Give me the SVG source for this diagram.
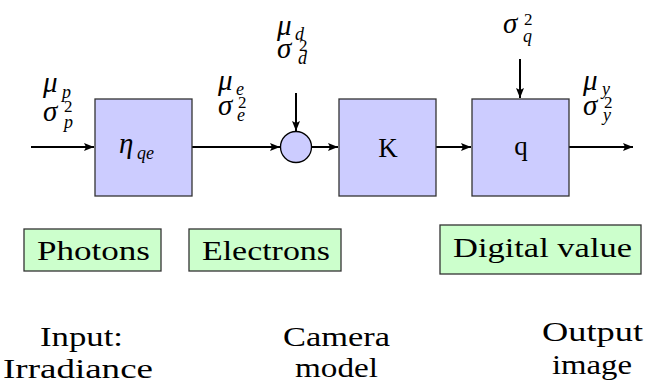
<svg xmlns="http://www.w3.org/2000/svg" width="648" height="381" viewBox="0 0 648 381" font-family="Liberation Serif, Times New Roman, DejaVu Serif, serif">
<style>
.blk{fill:#ccccff;stroke:#333;stroke-width:1.3}
.lbl{fill:#ccffcc;stroke:#333;stroke-width:1.3}
.w{stroke:#000;stroke-width:2;fill:none;marker-end:url(#ah)}
text{fill:#000}
.m{font-style:italic;font-size:29px}
.s{font-style:italic;font-size:18px}
.n{font-size:17px}
.t{font-size:27px}
</style>
<defs>
<marker id="ah" markerUnits="userSpaceOnUse" markerWidth="11" markerHeight="9" refX="10" refY="4" orient="auto">
<path d="M0,0 L10,4 L0,8 L2,4 z" fill="#000"/>
</marker>
</defs>
<g id="connectors">
<line class="w" x1="31" y1="147" x2="94" y2="147"/>
<line class="w" x1="192" y1="147" x2="280" y2="147"/>
<line class="w" x1="296" y1="93" x2="296" y2="131"/>
<line class="w" x1="312" y1="147" x2="338" y2="147"/>
<line class="w" x1="436" y1="147" x2="471" y2="147"/>
<line class="w" x1="569" y1="147" x2="633" y2="147"/>
<line class="w" x1="520" y1="59" x2="520" y2="98"/>
</g>
<g id="eta">
<rect class="blk" x="95" y="99" width="97" height="97"/>
<text class="m" x="119" y="153">η</text><text class="s" x="137" y="159" font-size="19">qe</text>
</g>
<g id="sum">
<circle class="blk" cx="296" cy="147" r="15.5" style="stroke:#000"/>
</g>
<g id="K">
<rect class="blk" x="339" y="99" width="97" height="97"/>
<text class="t" x="388" y="157" text-anchor="middle" font-size="28">K</text>
</g>
<g id="q">
<rect class="blk" x="472" y="99" width="97" height="97"/>
<text class="t" x="521" y="155" text-anchor="middle" font-size="28">q</text>
</g>
<g id="label-p">
<text class="m" x="43" y="92">μ</text><text class="s" x="62" y="98">p</text>
<text class="m" x="43" y="121">σ</text><text class="n" x="64" y="112">2</text><text class="s" x="64" y="128">p</text>
</g>
<g id="label-e">
<text class="m" x="218" y="90">μ</text><text class="s" x="236" y="95">e</text>
<text class="m" x="218" y="115">σ</text><text class="n" x="238" y="108">2</text><text class="s" x="237" y="121">e</text>
</g>
<g id="label-d">
<text class="m" x="277" y="35">μ</text><text class="s" x="295" y="40">d</text>
<text class="m" x="277" y="58">σ</text><text class="n" x="299" y="51">2</text><text class="s" x="298" y="64">d</text>
</g>
<g id="label-q">
<text class="m" x="503" y="33">σ</text><text class="n" x="524" y="25">2</text><text class="s" x="523" y="42">q</text>
</g>
<g id="label-y">
<text class="m" x="583" y="90">μ</text><text class="s" x="602" y="95">y</text>
<text class="m" x="583" y="115">σ</text><text class="n" x="604" y="108">2</text><text class="s" x="603" y="121">y</text>
</g>
<g id="photons">
<rect class="lbl" x="24" y="229" width="137" height="42"/>
<text class="t" x="37" y="260" textLength="113" lengthAdjust="spacingAndGlyphs">Photons</text>
</g>
<g id="electrons">
<rect class="lbl" x="189" y="229" width="152" height="42"/>
<text class="t" x="202" y="260" textLength="128" lengthAdjust="spacingAndGlyphs">Electrons</text>
</g>
<g id="digital">
<rect class="lbl" x="440" y="225" width="201" height="49"/>
<text class="t" x="453" y="257" textLength="179" lengthAdjust="spacingAndGlyphs">Digital value</text>
</g>
<g id="input">
<text class="t" x="40" y="346" textLength="83" lengthAdjust="spacingAndGlyphs">Input:</text>
<text class="t" x="3" y="378" textLength="150" lengthAdjust="spacingAndGlyphs">Irradiance</text>
</g>
<g id="camera">
<text class="t" x="283" y="346" textLength="107" lengthAdjust="spacingAndGlyphs">Camera</text>
<text class="t" x="295" y="377" textLength="83" lengthAdjust="spacingAndGlyphs">model</text>
</g>
<g id="output">
<text class="t" x="542" y="341" textLength="101" lengthAdjust="spacingAndGlyphs">Output</text>
<text class="t" x="552" y="374" textLength="80" lengthAdjust="spacingAndGlyphs">image</text>
</g>
</svg>
